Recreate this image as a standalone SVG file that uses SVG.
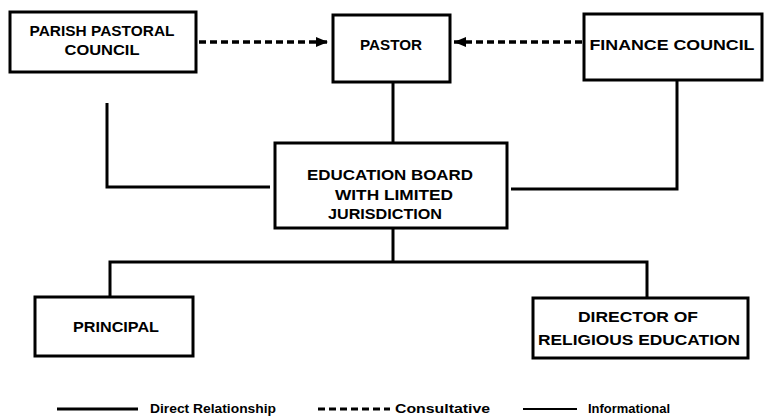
<svg xmlns="http://www.w3.org/2000/svg" width="765" height="417" viewBox="0 0 765 417">
<style>
.box{fill:#fff;stroke:#000;stroke-width:3}
.t{font-family:"Liberation Sans",Arial,sans-serif;font-weight:bold;font-size:15px;fill:#000;text-anchor:middle}
.lt{font-family:"Liberation Sans",Arial,sans-serif;font-weight:bold;font-size:12px;fill:#000}
.solid{fill:none;stroke:#000;stroke-width:3}
.dash{fill:none;stroke:#000;stroke-width:3.5;stroke-dasharray:7 4}
</style>
<defs>
<marker id="ah" viewBox="0 0 12 10" refX="12" refY="5" markerWidth="12" markerHeight="10" markerUnits="userSpaceOnUse" orient="auto">
<path d="M0,0 L12,5 L0,10 Z" fill="#000"/>
</marker>
</defs>
<g id="connectors">
<path class="dash" d="M199,42 H328" marker-end="url(#ah)"/>
<path class="dash" d="M582,42 H454" marker-end="url(#ah)"/>
<path class="solid" d="M393,82 V143"/>
<path class="solid" d="M107,103 V187 H270"/>
<path class="solid" d="M511,189 H677 V81"/>
<path class="solid" d="M393,228 V262"/>
<path class="solid" d="M110,297 V262 H647 V298"/>
</g>
<g id="parish"><rect class="box" x="10" y="12" width="186" height="60"/><text class="t" x="102" y="36" textLength="145" lengthAdjust="spacingAndGlyphs">PARISH PASTORAL</text><text class="t" x="102" y="55" textLength="75" lengthAdjust="spacingAndGlyphs">COUNCIL</text></g>
<g id="pastor"><rect class="box" x="333" y="15" width="117" height="67"/><text class="t" x="391" y="50" textLength="62" lengthAdjust="spacingAndGlyphs">PASTOR</text></g>
<g id="finance"><rect class="box" x="584" y="14" width="178" height="66"/><text class="t" x="672" y="50" textLength="165" lengthAdjust="spacingAndGlyphs">FINANCE COUNCIL</text></g>
<g id="board"><rect class="box" x="275" y="143" width="232" height="85"/><text class="t" x="390" y="180" textLength="166" lengthAdjust="spacingAndGlyphs">EDUCATION BOARD</text><text class="t" x="394" y="200" textLength="118" lengthAdjust="spacingAndGlyphs">WITH LIMITED</text><text class="t" x="385" y="219" textLength="114" lengthAdjust="spacingAndGlyphs">JURISDICTION</text></g>
<g id="principal"><rect class="box" x="35" y="297" width="158" height="59"/><text class="t" x="116" y="332" textLength="86" lengthAdjust="spacingAndGlyphs">PRINCIPAL</text></g>
<g id="director"><rect class="box" x="533" y="298" width="215" height="60"/><text class="t" x="638" y="322" textLength="120" lengthAdjust="spacingAndGlyphs">DIRECTOR OF</text><text class="t" x="639" y="345" textLength="202" lengthAdjust="spacingAndGlyphs">RELIGIOUS EDUCATION</text></g>
<g id="legend">
<path class="solid" d="M57,409 H138"/>
<text class="lt" x="150" y="413" textLength="126" lengthAdjust="spacingAndGlyphs">Direct Relationship</text>
<path class="dash" d="M318,409 H390" style="stroke-width:3"/>
<text class="lt" x="395" y="413" textLength="95" lengthAdjust="spacingAndGlyphs">Consultative</text>
<path class="solid" d="M523,409 H577" style="stroke-width:2"/>
<text class="lt" x="588" y="413" textLength="82" lengthAdjust="spacingAndGlyphs">Informational</text>
</g>
</svg>
